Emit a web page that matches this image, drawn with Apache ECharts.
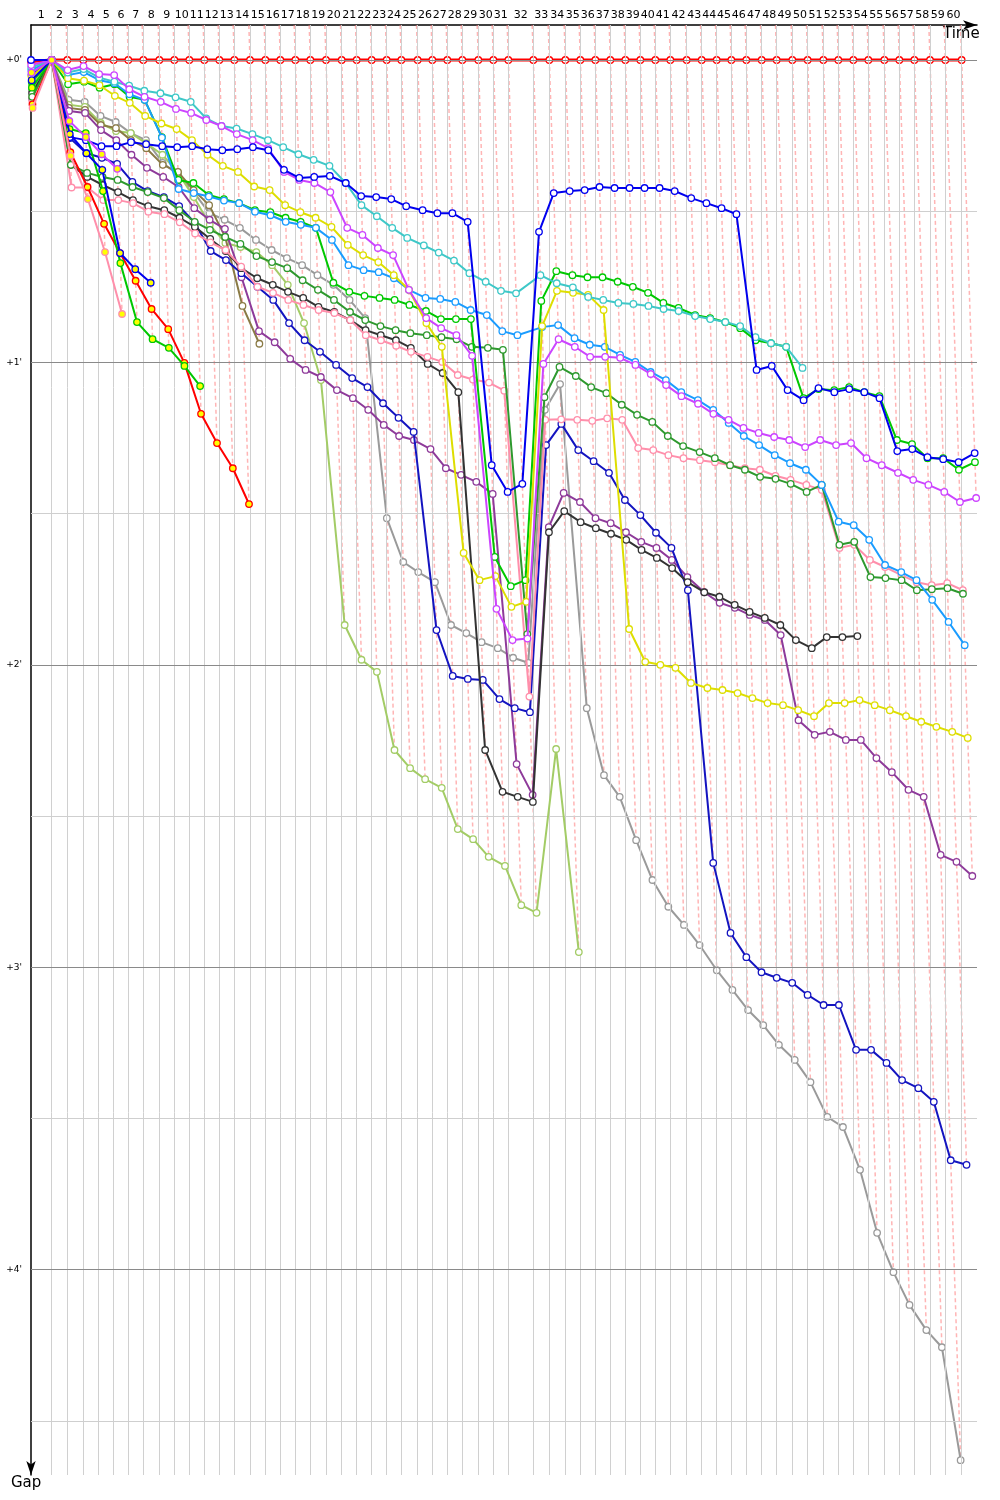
<!DOCTYPE html>
<html><head><meta charset="utf-8">
<script src="https://cdn.jsdelivr.net/npm/echarts@6/dist/echarts.min.js"></script>
<style>html,body{margin:0;padding:0;background:#fff}#c{width:1000px;height:1500px}</style>
</head><body><div id="c"></div>
<script>
// Leader lap times (seconds), laps 1..60
const leaderLapSec = [124,94,96,92,90,88,90,96,90,90, 90,90,90,94,92,90,90,90,94,94,
  90,90,90,88,98,88,90,90,96,90, 90,150,96,96,90,90,90,90,90,90,
  90,98,90,90,88,90,92,90,94,92, 94,90,90,90,96,90,90,94,92,98];
const lapNumbers = [1,2,3,4,5,6,7,8,9,10,11,12,13,14,15,16,17,18,19,20,21,22,23,24,25,26,27,28,29,30,
  31,32,33,34,35,36,37,38,39,40,41,42,43,44,45,46,47,48,49,50,51,52,53,54,55,56,57,58,59,60];
const gapTickValues = [0,60,120,180,240];
const gapTickLabels = ["+0'","+1'","+2'","+3'","+4'"];

// Gaps to leader in seconds, index = lap (0 = start)
const gapLeader = [0.3,0,0,0,0,0,0,0,0,0,0,0,0,0,0,0,0,0,0,0,0,0,0,0,0,0,0,0,0,0,0,0,0,0,0,0,0,0,0,0,0,0,0,0,0,0,0,0,0,0,0,0,0,0,0,0,0,0,0,0,0];
const gapBlue = [0,0,15.3,15.9,17.1,17.1,16.3,16.7,17.1,17.3,17.1,17.7,17.9,17.7,17.3,17.9,21.8,23.4,23.2,23.0,24.4,27.0,27.2,27.6,29.0,29.8,30.4,30.4,32.1,80.4,85.7,84.1,34.1,26.4,26.0,25.8,25.2,25.4,25.4,25.4,25.4,26.0,27.4,28.4,29.4,30.6,61.5,60.7,65.5,67.5,65.1,65.9,65.3,65.9,67.1,77.6,77.2,78.8,79.2,79.8,78.0];
const gapCyan = [1.5,0,2.5,1.8,3.5,4.3,5.1,6.1,6.6,7.4,8.3,11.6,13.1,13.6,14.7,15.9,17.3,18.7,19.8,21.0,24.4,28.8,31.0,33.3,35.3,36.8,38.2,39.8,42.3,44.0,45.8,46.3,42.7,44.3,45.1,47.0,47.6,48.2,48.4,48.8,49.4,49.8,50.8,51.4,52.0,52.8,55.0,56.2,56.9,61.1];
const gapViolet = [1.0,0,2.0,1.2,2.8,3.0,5.8,7.3,8.3,9.7,10.5,11.9,13.1,14.7,15.9,17.5,22.2,23.8,24.4,26.2,33.3,34.7,37.3,38.7,45.6,51.2,53.2,54.6,58.7,108.9,115.1,114.8,60.3,55.4,56.9,58.9,58.9,59.1,60.5,62.3,64.5,66.7,68.2,70.2,71.4,73.0,74.0,74.8,75.4,76.8,75.4,76.4,76.0,79.0,80.4,81.9,83.3,84.3,85.7,87.7,86.9];
const gapSky = [2.0,0,3.0,2.4,4.0,4.6,6.8,7.9,15.4,25.6,26.4,27.1,27.9,28.4,30.1,30.8,32.1,32.7,33.3,35.7,40.7,41.7,42.1,43.3,45.6,47.2,47.4,48.0,49.6,50.6,53.8,54.6,53.0,52.6,55.2,56.5,56.9,58.5,59.9,61.9,63.5,65.9,67.5,69.4,72.0,74.6,76.4,78.4,80.0,81.3,84.3,91.6,92.3,95.2,100.2,101.6,103.2,107.1,111.5,116.1];
const gapYellow = [3.3,0,3.6,4.1,5.0,7.1,8.5,11.1,12.6,13.7,15.9,18.8,21.0,22.2,25.1,25.8,28.8,30.2,31.3,33.1,36.7,38.7,40.1,42.7,45.6,52.2,56.9,97.8,103.2,102.4,108.5,107.5,52.8,45.8,46.2,46.6,49.6,112.9,119.4,120.0,120.6,123.6,124.6,125.0,125.6,126.6,127.6,128.0,129.0,130.2,127.6,127.6,127.0,128.0,129.0,130.2,131.3,132.3,133.3,134.5];
const gapGreen = [4.3,0,4.8,4.3,5.5,4.8,7.3,7.9,15.3,23.8,24.4,26.8,27.6,28.4,29.8,30.2,31.3,32.1,33.3,44.2,46.0,46.8,47.2,47.6,48.6,49.8,51.4,51.4,51.4,98.6,104.4,103.2,47.8,41.9,42.7,43.1,43.1,44.0,45.0,46.2,48.2,49.2,50.6,51.2,52.0,53.2,55.6,56.2,56.9,67.1,65.3,65.5,64.9,65.9,66.7,75.4,76.2,79.0,79.0,81.3,79.8];
const gapDarkGreen = [7.3,0,20.8,22.4,23.2,23.8,25.2,26.2,27.4,29.8,32.1,33.7,35.1,36.5,38.9,40.1,41.3,43.7,45.6,47.6,50.0,51.6,52.8,53.6,54.2,54.6,55.0,55.4,56.9,57.1,57.5,113.9,66.9,60.9,62.7,64.9,66.1,68.4,70.4,71.8,74.6,76.6,77.8,79.0,80.4,81.3,82.7,83.1,84.1,85.7,84.3,96.2,95.6,102.6,102.8,103.2,105.2,105.0,104.8,105.9];
const gapBlack = [6.6,0,20.8,23.2,24.8,26.2,27.8,29.0,29.8,31.3,33.1,35.5,37.9,41.3,43.3,44.6,46.0,47.2,49.0,50.0,51.6,53.6,54.6,55.6,57.1,60.3,62.1,65.9,136.9,145.2,146.2,147.2,93.7,89.5,91.7,92.9,94.0,95.2,97.2,98.8,100.8,103.6,105.6,106.5,108.1,109.5,110.7,112.1,115.1,116.7,114.5,114.5,114.3];
const gapPink = [8.3,0,25.3,25.3,27.8,27.8,28.4,30.1,30.6,32.2,34.4,36.2,37.7,41.0,45.0,46.2,47.6,48.6,49.6,50.2,51.6,54.6,55.6,56.7,57.9,58.9,59.9,62.5,63.4,64.0,65.6,126.3,71.4,71.3,71.4,71.6,71.1,71.4,77.0,77.4,78.4,79.0,79.4,79.8,80.4,81.0,81.3,82.5,83.3,84.3,85.3,96.8,96.2,99.2,100.6,102.2,103.6,104.2,103.8,105.2];
const gapNavy = [3.0,0,15.5,18.5,19.4,20.6,24.2,26.0,27.2,29.0,32.3,37.9,39.7,42.3,45.0,47.6,52.2,55.6,57.9,60.5,63.1,64.9,68.1,71.0,73.8,113.1,122.2,122.8,123.0,126.8,128.6,129.4,76.4,72.2,77.4,79.6,81.9,87.3,90.3,93.8,96.8,105.2,159.3,173.2,178.0,181.0,182.1,183.1,185.5,187.5,187.5,196.4,196.4,199.0,202.4,204.0,206.7,218.3,219.2];
const gapGrey = [6.0,0,7.9,8.3,11.1,12.3,14.5,15.9,20.4,22.8,26.2,30.4,31.7,33.3,35.7,37.7,39.3,40.7,42.7,44.6,47.6,51.2,90.9,99.6,101.6,103.6,112.1,113.7,115.5,116.7,118.6,119.6,69.4,64.3,128.6,141.9,146.2,154.8,162.7,168.0,171.6,175.6,180.6,184.5,188.5,191.5,195.4,198.4,202.8,209.7,211.7,220.2,232.7,240.5,247.0,252.0,255.4,277.8];
const gapLightGreen = [5.0,0,8.9,9.3,12.5,14.1,14.5,16.5,18.8,22.4,27.2,32.7,36.3,37.1,38.1,40.7,44.6,52.2,63.5,112.1,119.0,121.4,136.9,140.5,142.7,144.4,152.6,154.6,158.1,159.9,167.7,169.2,136.7,177.0];
const gapPurple = [7.8,0,10.1,10.5,13.9,15.9,18.8,21.4,23.2,25.2,29.4,31.7,33.5,43.1,53.8,56.0,59.3,61.5,62.9,65.5,67.1,69.4,72.4,74.6,75.4,77.2,81.0,82.3,83.7,86.1,139.7,145.8,92.7,85.9,87.7,90.9,91.9,93.7,95.6,96.8,99.2,102.6,105.6,107.7,108.7,110.1,111.1,114.1,131.0,133.9,133.3,134.9,134.9,138.5,141.3,144.8,146.2,157.7,159.1,161.9];
const gapOlive = [7.4,0,9.5,9.9,12.9,13.5,15.9,17.5,20.8,22.2,25.8,28.8,35.1,48.8,56.3];
const gapRedY = [8.8,0,18.3,25.2,32.5,38.3,43.8,49.4,53.4,60.1,70.2,76.0,81.0,88.1];
const gapGreenY = [5.5,0,13.7,14.5,26.0,40.3,52.0,55.4,57.1,60.7,64.7];
const gapBlueY = [4.0,0,14.7,18.5,21.8,38.3,41.5,44.2];
const gapPinkY = [9.5,0,19.0,27.6,38.1,50.4];
const gapVioletY = [2.5,0,12.1,15.3,18.7,21.6];

// ---- build ----
const T = [0];
leaderLapSec.forEach((s, i) => T.push(T[i] + s));
const mids = leaderLapSec.map((s, i) => (T[i] + T[i + 1]) / 2);

const Y_MIN = -6.944, Y_MAX = 280.75, X_MAX = 5676;

const drivers = [
  { gaps: gapLeader, color: '#ff0000', fill: '#ffffff', width: 3 },
  { gaps: gapGrey, color: '#9a9a9a', fill: '#ffffff' },
  { gaps: gapLightGreen, color: '#a3cc66', fill: '#ffffff' },
  { gaps: gapOlive, color: '#8a7a45', fill: '#ffffff' },
  { gaps: gapPurple, color: '#8e3a9a', fill: '#ffffff' },
  { gaps: gapNavy, color: '#1414c0', fill: '#ffffff' },
  { gaps: gapBlack, color: '#333333', fill: '#ffffff' },
  { gaps: gapPink, color: '#ff8fab', fill: '#ffffff' },
  { gaps: gapDarkGreen, color: '#2e992e', fill: '#ffffff' },
  { gaps: gapGreen, color: '#00c800', fill: '#ffffff' },
  { gaps: gapSky, color: '#1a9cff', fill: '#ffffff' },
  { gaps: gapYellow, color: '#dede00', fill: '#ffffff' },
  { gaps: gapCyan, color: '#3ec8c8', fill: '#ffffff' },
  { gaps: gapViolet, color: '#cc44ff', fill: '#ffffff' },
  { gaps: gapBlue, color: '#0000ee', fill: '#ffffff' },
  { gaps: gapRedY, color: '#ff0000', fill: '#ffff00' },
  { gaps: gapGreenY, color: '#00c800', fill: '#ffff00' },
  { gaps: gapBlueY, color: '#0000ee', fill: '#ffff00' },
  { gaps: gapPinkY, color: '#ff8fab', fill: '#ffff00' },
  { gaps: gapVioletY, color: '#cc44ff', fill: '#ffff00' }
];

const series = [];
// grid lines
const hLines = [];
for (let v = 0; v <= 270; v += 30) {
  hLines.push({ yAxis: v, lineStyle: { color: (v % 60 === 0) ? '#8a8a8a' : '#cfcfcf', width: 1, type: 'solid' } });
}
const vLines = T.slice(1).map(t => ({ xAxis: t, lineStyle: { color: '#d0d0d0', width: 1, type: 'solid' } }));
series.push({
  type: 'line', data: [], z: 1, silent: true,
  markLine: { silent: true, symbol: ['none', 'none'], label: { show: false }, animation: false, data: vLines.concat(hLines) }
});
// dashed lap lines
for (let k = 1; k < T.length; k++) {
  let maxG = 0;
  drivers.forEach(d => { if (d.gaps.length > k && d.gaps[k] > maxG) maxG = d.gaps[k]; });
  series.push({
    type: 'line', silent: true, z: 2, symbol: 'none',
    lineStyle: { color: 'rgba(255,120,120,0.55)', width: 1.5, type: [4, 3] },
    data: [[T[k] + Y_MIN, Y_MIN], [T[k] + maxG, maxG]]
  });
}
// drivers
drivers.forEach((d, i) => {
  series.push({
    type: 'line', z: 3 + i, symbol: 'circle', symbolSize: 6.5, showAllSymbol: true,
    lineStyle: { color: d.color, width: d.width || 2 },
    itemStyle: { color: d.fill, borderColor: d.color, borderWidth: 1.3 },
    data: d.gaps.map((g, k) => [T[k] + g, g])
  });
});

const chart = echarts.init(document.getElementById('c'), null, { renderer: 'canvas' });
chart.setOption({
  animation: false,
  backgroundColor: '#ffffff',
  grid: { left: 31, top: 25, width: 946, height: 1450, containLabel: false },
  xAxis: {
    type: 'value', position: 'top', min: 0, max: X_MAX,
    axisLine: { onZero: false, lineStyle: { color: '#000', width: 1.5 }, symbol: ['none', 'arrow'], symbolSize: [7, 14] },
    axisTick: { show: false },
    splitLine: { show: false },
    axisLabel: {
      customValues: mids, margin: 4, color: '#000', fontSize: 11, fontFamily: 'DejaVu Sans',
      formatter: v => { const i = mids.indexOf(v); return i >= 0 ? String(lapNumbers[i]) : ''; }
    }
  },
  yAxis: {
    type: 'value', inverse: true, min: Y_MIN, max: Y_MAX,
    axisLine: { onZero: false, lineStyle: { color: '#000', width: 1.5 }, symbol: ['arrow', 'none'], symbolSize: [7, 14] },
    axisTick: { show: false },
    splitLine: { show: false },
    axisLabel: {
      customValues: gapTickValues, margin: 9, color: '#000', fontSize: 9, fontFamily: 'DejaVu Sans',
      formatter: v => { const i = gapTickValues.indexOf(v); return i >= 0 ? gapTickLabels[i] : ''; }
    }
  },
  graphic: [
    { type: 'text', left: 943, top: 27, style: { text: 'Time', font: '15px "DejaVu Sans"', fill: '#000' } },
    { type: 'text', left: 11, top: 1476, style: { text: 'Gap', font: '15px "DejaVu Sans"', fill: '#000' } }
  ],
  series: series
});
</script></body></html>
